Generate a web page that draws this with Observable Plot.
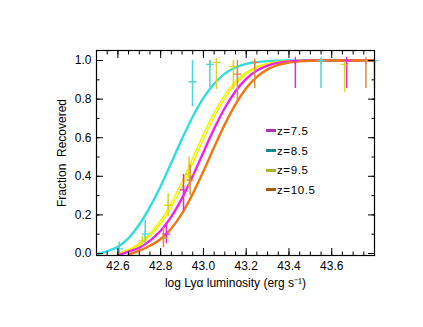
<!DOCTYPE html>
<html><head><meta charset="utf-8">
<script src="https://cdn.jsdelivr.net/npm/d3@7"></script>
<script src="https://cdn.jsdelivr.net/npm/@observablehq/plot@0.6"></script>
<style>
body{margin:0;background:#fff;}
#wrap{position:relative;width:423px;height:327px;font-family:"Liberation Sans",Arial,sans-serif;}
#legend{position:absolute;left:266px;top:121px;font-size:11.5px;letter-spacing:0.6px;color:#000;}
.row{display:flex;align-items:center;height:19.7px;}
.sw{width:10px;height:3px;margin-right:1px;}
</style></head><body><div id="wrap"><div id="legend"></div></div>
<script>
// ---- data ----
const seriesLabels = ["z=7.5", "z=8.5", "z=9.5", "z=10.5"];
const xMajor = [42.6, 42.8, 43.0, 43.2, 43.4, 43.6];
const yMajor = [0.0, 0.2, 0.4, 0.6, 0.8, 1.0];
const xMinor = d3.range(42.5, 43.801, 0.05);
const yMinor = d3.range(0, 1.001, 0.1);

// fitted completeness curves sampled on a common luminosity grid
const gridX = [42.50,42.55,42.60,42.65,42.70,42.75,42.80,42.85,42.90,42.95,43.00,43.05,43.10,43.15,43.20,43.25,43.30,43.35,43.40,43.45,43.50,43.55,43.80];
const curveZ75  = [null,null,-0.01,0.01,0.03,0.067,0.118,0.191,0.287,0.401,0.525,0.646,0.754,0.841,0.905,0.948,0.974,0.988,0.995,0.998,1,1,1];
const curveZ85  = [-0.005,0.012,0.035,0.08,0.15,0.242,0.349,0.47,0.594,0.709,0.806,0.88,0.932,0.964,0.983,0.992,0.997,0.999,1,1,1,1,1];
const curveZ95a = [null,null,-0.003,0.022,0.052,0.103,0.171,0.262,0.373,0.495,0.618,0.73,0.822,0.892,0.939,0.969,0.985,0.994,0.998,1,1,1,1];
const curveZ95b = [null,null,-0.005,0.016,0.043,0.091,0.154,0.240,0.346,0.467,0.590,0.706,0.803,0.878,0.930,0.963,0.982,0.993,0.997,1,1,1,1];
const curveZ105 = [null,null,null,-0.005,0.015,0.04,0.075,0.13,0.208,0.309,0.426,0.55,0.669,0.773,0.856,0.915,0.954,0.977,0.99,0.996,0.999,1,1];

// measured points: [log L, fraction, lower, upper]
const ptsZ75  = [[42.827,0.10,0.05,0.16],[42.907,0.33,0.22,0.41],[43.43,1.0,0.855,1.0],[43.67,1.0,0.855,1.0]];
const ptsZ85  = [[42.606,0.024,0.0,0.06],[42.728,0.10,0.05,0.17],[42.949,0.89,0.76,1.0],[43.03,0.98,0.86,1.0],[43.55,1.0,0.855,1.0],[43.80,1.0,0.855,1.0]];
const ptsZ95  = [[42.715,0.065,0.04,0.09],[42.835,0.25,0.19,0.31],[42.933,0.41,0.34,0.50],[43.061,0.99,0.85,1.01],[43.14,0.97,0.85,1.0],[43.66,0.98,0.835,1.0]];
const ptsZ105 = [[42.813,0.08,0.03,0.135],[42.938,0.38,0.30,0.46],[43.159,0.93,0.79,1.0],[43.24,0.99,0.855,1.0],[43.76,1.0,0.855,1.0]];

const xTitle = "log Ly\u03b1 luminosity (erg s\u207b\u00b9)";
const yTitle = "Fraction\u00a0 Recovered";

// ---- styling ----
const curveColor = {"z=7.5":"#ee22ee","z=8.5":"#33dddd","z=9.5":"#f2f200","z=10.5":"#ee7711"};
const barColor   = {"z=7.5":"#e42ae4","z=8.5":"#48d8d8","z=9.5":"#d8d820","z=10.5":"#d88c48"};
const swatchColor= {"z=7.5":"#b030b0","z=8.5":"#108a8a","z=9.5":"#b0b030","z=10.5":"#a8580f"};

const toCurve = (vals, s) => gridX.map((x, i) => ({x, y: vals[i], s}));
const toPts = (arr, s) => arr.map(([x, y, lo, hi]) => ({x, y, lo, hi, s}));

const curves = [
  {d: toCurve(curveZ85, "z=8.5"), w: 2.4},
  {d: toCurve(curveZ95a, "z=9.5"), w: 1.5},
  {d: toCurve(curveZ95b, "z=9.5"), w: 1.5},
  {d: toCurve(curveZ75, "z=7.5"), w: 2.4},
  {d: toCurve(curveZ105, "z=10.5"), w: 2.4}
];
const pts = [...toPts(ptsZ85,"z=8.5"), ...toPts(ptsZ95,"z=9.5"), ...toPts(ptsZ75,"z=7.5"), ...toPts(ptsZ105,"z=10.5")];

const fmt = d3.format(".1f");
const blank = () => "";
const tickStyle = {label: null, tickFormat: blank, stroke: "#000"};

const chart = Plot.plot({
  width: 423, height: 327,
  marginLeft: 96, marginRight: 49, marginTop: 50, marginBottom: 72,
  x: {domain: [42.5, 43.8]},
  y: {domain: [-0.0104, 1.052]},
  style: {fontFamily: "'Liberation Sans', Arial, sans-serif", fontSize: "12px", color: "#000", background: "#fff"},
  marks: [
    ...curves.map(c => Plot.line(c.d, {x: "x", y: "y", stroke: d => curveColor[d.s], strokeWidth: c.w, curve: "monotone-x", clip: true})),
    Plot.ruleX(pts, {x: "x", y1: "lo", y2: "hi", stroke: d => barColor[d.s], strokeWidth: 1.5}),
    Plot.dot(pts, {x: "x", y: "y", symbol: "plus", r: 2.6, stroke: d => barColor[d.s], strokeWidth: 1.3}),
    Plot.frame({stroke: "#000", strokeWidth: 1.2}),
    Plot.axisX({anchor: "bottom", ticks: xMinor, tickSize: -3.5, ...tickStyle}),
    Plot.axisX({anchor: "bottom", ticks: xMajor, tickSize: -7, ...tickStyle}),
    Plot.axisX({anchor: "top", ticks: xMinor, tickSize: -3.5, ...tickStyle}),
    Plot.axisX({anchor: "top", ticks: xMajor, tickSize: -7, ...tickStyle}),
    Plot.axisY({anchor: "left", ticks: yMinor, tickSize: -3.5, ...tickStyle}),
    Plot.axisY({anchor: "left", ticks: yMajor, tickSize: -7, ...tickStyle}),
    Plot.axisY({anchor: "right", ticks: yMinor, tickSize: -3.5, ...tickStyle}),
    Plot.axisY({anchor: "right", ticks: yMajor, tickSize: -7, ...tickStyle}),
    Plot.axisX({anchor: "bottom", ticks: xMajor, tickSize: 0, tickPadding: 6, tickFormat: fmt, label: null, fill: "#000", style: {letterSpacing: "0.6px"}}),
    Plot.axisY({anchor: "left", ticks: yMajor, tickSize: 0, tickPadding: 5, tickFormat: fmt, label: null, fill: "#000", style: {letterSpacing: "0.4px"}}),
    Plot.text([xTitle], {frameAnchor: "bottom", dy: 28, fontSize: 12, fill: "#000", textAnchor: "middle", lineAnchor: "middle", style: {letterSpacing: "1.1px"}}),
    Plot.text([yTitle], {frameAnchor: "left", dx: -34, rotate: -90, fontSize: 12, fill: "#000", textAnchor: "middle", lineAnchor: "middle", style: {letterSpacing: "0.9px"}})
  ]
});
document.getElementById("wrap").prepend(chart);

const legend = document.getElementById("legend");
seriesLabels.forEach(s => {
  const row = document.createElement("div");
  row.className = "row";
  const sw = document.createElement("div");
  sw.className = "sw";
  sw.style.background = swatchColor[s];
  const t = document.createElement("span");
  t.textContent = s;
  row.append(sw, t);
  legend.append(row);
});
</script></body></html>
